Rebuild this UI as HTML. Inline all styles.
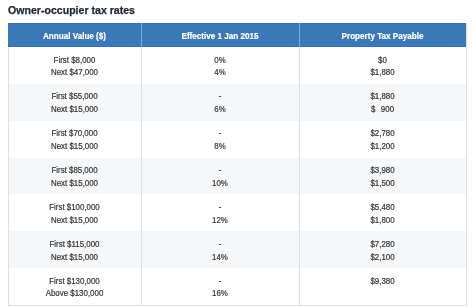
<!DOCTYPE html>
<html><head><meta charset="utf-8"><style>
html,body{margin:0;padding:0;background:#fff;width:474px;height:308px;overflow:hidden;position:relative}
body{font-family:"Liberation Sans",sans-serif}
.wrap{position:absolute;left:0;top:0;width:474px;height:308px;will-change:transform}
.title{position:absolute;left:8px;top:2.3px;-webkit-text-stroke:0.25px #1b2535;font-size:11.5px;font-weight:bold;color:#1b2535;line-height:16px;white-space:nowrap;transform:scaleX(0.92);transform-origin:0 0}
.hdr{position:absolute;left:8px;top:23px;width:458px;height:24px;background:#3a78b8}
.hcell{position:absolute;top:23.6px;height:24px;line-height:24px;text-align:center;color:#fff;font-weight:bold;font-size:9px;white-space:nowrap;-webkit-text-stroke:0.2px #fff;transform:scaleX(0.9);transform-origin:50% 50%}
.row{position:absolute;left:8px;width:458px}
.cell{position:absolute;text-align:center;font-size:8.6px;line-height:12.8px;color:#333333;white-space:nowrap;-webkit-text-stroke:0.2px #333333;transform:scaleX(0.92);transform-origin:50% 50%}
.vl{position:absolute;width:1px}
.hl{position:absolute;height:1px}
</style></head><body><div class="wrap">
<div class="title">Owner-occupier tax rates</div>
<div class="hdr"></div>
<div class="row" style="top:47.00px;height:36.86px;background:#ffffff"></div>
<div class="cell" style="left:8px;width:133px;top:53.50px">First $8,000<br>Next $47,000</div>
<div class="cell" style="left:141px;width:158px;top:53.50px">0%<br>4%</div>
<div class="cell" style="left:299px;width:167px;top:53.50px">$0<br>$1,880</div>
<div class="row" style="top:83.86px;height:36.86px;background:#f6f7f9"></div>
<div class="cell" style="left:8px;width:133px;top:90.36px">First $55,000<br>Next $15,000</div>
<div class="cell" style="left:141px;width:158px;top:90.36px">-<br>6%</div>
<div class="cell" style="left:299px;width:167px;top:90.36px">$1,880<br>$&nbsp;<span style="margin-left:1.2px">&nbsp;</span>900</div>
<div class="row" style="top:120.71px;height:36.86px;background:#ffffff"></div>
<div class="cell" style="left:8px;width:133px;top:127.21px">First $70,000<br>Next $15,000</div>
<div class="cell" style="left:141px;width:158px;top:127.21px">-<br>8%</div>
<div class="cell" style="left:299px;width:167px;top:127.21px">$2,780<br>$1,200</div>
<div class="row" style="top:157.57px;height:36.86px;background:#f6f7f9"></div>
<div class="cell" style="left:8px;width:133px;top:164.07px">First $85,000<br>Next $15,000</div>
<div class="cell" style="left:141px;width:158px;top:164.07px">-<br>10%</div>
<div class="cell" style="left:299px;width:167px;top:164.07px">$3,980<br>$1,500</div>
<div class="row" style="top:194.43px;height:36.86px;background:#ffffff"></div>
<div class="cell" style="left:8px;width:133px;top:200.93px">First $100,000<br>Next $15,000</div>
<div class="cell" style="left:141px;width:158px;top:200.93px">-<br>12%</div>
<div class="cell" style="left:299px;width:167px;top:200.93px">$5,480<br>$1,800</div>
<div class="row" style="top:231.28px;height:36.86px;background:#f6f7f9"></div>
<div class="cell" style="left:8px;width:133px;top:237.78px">First $115,000<br>Next $15,000</div>
<div class="cell" style="left:141px;width:158px;top:237.78px">-<br>14%</div>
<div class="cell" style="left:299px;width:167px;top:237.78px">$7,280<br>$2,100</div>
<div class="row" style="top:268.14px;height:36.86px;background:#ffffff"></div>
<div class="cell" style="left:8px;width:133px;top:274.64px">First $130,000<br>Above $130,000</div>
<div class="cell" style="left:141px;width:158px;top:274.64px">-<br>16%</div>
<div class="cell" style="left:299px;width:167px;top:274.64px">$9,380<br></div>
<div class="hcell" style="left:8px;width:133px">Annual Value ($)</div>
<div class="hcell" style="left:141px;width:158px">Effective 1 Jan 2015</div>
<div class="hcell" style="left:299px;width:167px">Property Tax Payable</div>
<div class="hl" style="left:8px;top:23px;width:458px;background:#3570ad"></div>
<div class="hl" style="left:8px;top:46px;width:458px;background:#3470ac"></div>
<div class="vl" style="left:141px;top:23px;height:24px;background:#7aaee0"></div>
<div class="vl" style="left:299px;top:23px;height:24px;background:#7aaee0"></div>
<div class="vl" style="left:141px;top:47px;height:258px;background:#dfe0e2"></div>
<div class="vl" style="left:299px;top:47px;height:258px;background:#dfe0e2"></div>
<div class="vl" style="left:8px;top:47px;height:258px;background:#dfe0e2"></div>
<div class="vl" style="left:466px;top:23px;height:283px;background:#dfe0e2"></div>
<div class="hl" style="left:8px;top:305px;width:459px;background:#dfe0e2"></div>
</div></body></html>
